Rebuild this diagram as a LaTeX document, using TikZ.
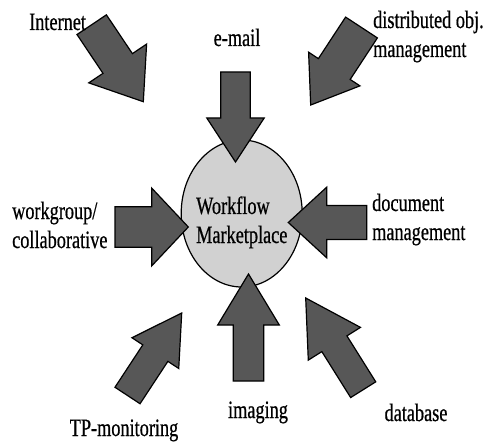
\documentclass[tikz,border=0pt]{standalone}
\usepackage{fontspec}
\setmainfont{Liberation Serif}[FakeStretch=0.73,FakeBold=0.6]
\usepackage{tikz}
\usetikzlibrary{calc,shapes.geometric}
\definecolor{feedgray}{gray}{0.34}
\definecolor{hubgray}{gray}{0.82}
\tikzset{
  lbl/.style={font=\fontsize{25}{29}\selectfont,inner sep=0pt},
  hub/.style={ellipse,draw=black,line width=1.2pt,fill=hubgray,inner sep=0pt},
  feedarrow/.style={draw=black,line width=1.2pt,fill=feedgray,line join=miter}
}
\begin{document}
\begin{tikzpicture}[x=1pt,y=-1pt]
  \useasboundingbox (0,0) rectangle (489,446);
  \node[hub,minimum width=121pt,minimum height=147pt] (market) at (241.7,213.5) {};
  % feeder arrows: tail and tip of each one
  \coordinate (inet-s) at (91.7,24.7);   \coordinate (inet-e) at (143.3,101.7);
  \coordinate (mail-s) at (235.5,72);    \coordinate (mail-e) at (235.5,162);
  \coordinate (dobj-s) at (361.5,27.5);  \coordinate (dobj-e) at (310.7,105);
  \coordinate (wgrp-s) at (115,227);     \coordinate (wgrp-e) at (188.3,227);
  \coordinate (docm-s) at (366.7,222.5); \coordinate (docm-e) at (288.3,222.5);
  \coordinate (tpm-s) at (127.5,395.5);  \coordinate (tpm-e) at (181.7,313);
  \coordinate (imag-s) at (248.5,381);   \coordinate (imag-e) at (248.5,274);
  \coordinate (dbase-s) at (363.2,389.7);\coordinate (dbase-e) at (305.7,298);
  \foreach \src/\dst/\sw/\hw/\hl in {inet-s/inet-e/17.7/34.8/46,mail-s/mail-e/14.7/28.7/44,
      dobj-s/dobj-e/19/30.7/43,wgrp-s/wgrp-e/20.3/38.9/36.6,docm-s/docm-e/17/35.3/38.4,
      tpm-s/tpm-e/15/28/48,imag-s/imag-e/15.2/30.8/51,dbase-s/dbase-e/14.8/30.8/54}{
    \coordinate (hd) at ($(\dst)!\hl pt!(\src)$);
    \draw[feedarrow] ($(\src)!\sw pt!90:(\dst)$) -- ($(hd)!\sw pt!90:(\dst)$)
      -- ($(hd)!\hw pt!90:(\dst)$) -- (\dst) -- ($(hd)!\hw pt!-90:(\dst)$)
      -- ($(hd)!\sw pt!-90:(\dst)$) -- ($(\src)!\sw pt!-90:(\dst)$) -- cycle;
  }
  % labels (base of a two-line label is its last line)
  \node[lbl,anchor=base west] (inet) at (29,30) {Internet};
  \node[lbl,anchor=base] (mail) at (237,46) {e-mail};
  \node[lbl,anchor=base west,align=left] (dobj) at (373,57) {distributed obj.\\management};
  \node[lbl,anchor=base west,align=left] (wgrp) at (12,248) {workgroup/\\collaborative};
  \node[lbl,anchor=base west,align=left] (docm) at (372,240) {document\\management};
  \node[lbl,anchor=base] (imag) at (258,418) {imaging};
  \node[lbl,anchor=base] (tpm) at (124,436) {TP-monitoring};
  \node[lbl,anchor=base] (dbase) at (416,421) {database};
  \node[lbl,anchor=base west,align=left] (hubtext) at (196,243) {Workflow\\Marketplace};
\end{tikzpicture}
\end{document}
